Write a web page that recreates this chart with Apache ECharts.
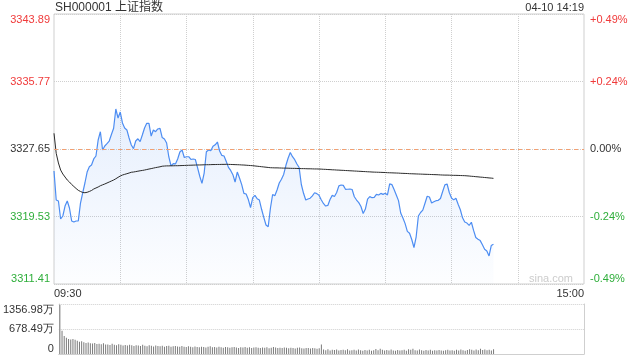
<!DOCTYPE html>
<html><head><meta charset="utf-8">
<script src="https://cdn.jsdelivr.net/npm/echarts/dist/echarts.min.js"></script>
<style>html,body{margin:0;padding:0;background:#fff}#c{width:640px;height:360px}</style>
</head><body><div id="c"></div><script>
const title = 'SH000001 上证指数';
const stamp = '04-10 14:19';
const prevClose = 3327.65;
const priceMin = 3311.41, priceMax = 3343.89, priceStep = 8.12;
const volMax = 1356.98, volStep = 678.49;
const startLabel = '09:30', endLabel = '15:00';

const price = [
3325.00,3321.51,3321.39,3319.23,3319.59,3320.79,3321.39,3320.55,3318.99,3318.87,
3318.99,3318.99,3321.15,3322.36,3323.56,3324.88,3325.52,3325.72,3326.45,3326.81,
3328.73,3329.73,3327.53,3328.01,3328.29,3328.61,3329.39,3330.14,3332.46,3331.38,
3332.10,3330.78,3330.18,3329.94,3328.97,3328.13,3327.69,3328.61,3328.88,3328.53,
3329.33,3330.18,3330.74,3330.74,3329.21,3329.94,3329.73,3330.06,3330.14,3329.03,
3328.85,3328.37,3326.69,3325.61,3325.89,3325.85,3326.45,3327.29,3327.53,3326.63,
3326.72,3326.72,3326.39,3326.45,3326.39,3325.42,3324.37,3323.52,3324.76,3327.32,
3327.53,3327.44,3327.97,3328.15,3328.49,3327.41,3326.88,3326.81,3326.15,3325.44,
3325.07,3324.56,3323.68,3324.88,3324.16,3323.37,3322.32,3322.24,3321.57,3320.61,
3321.80,3322.08,3321.67,3321.51,3320.40,3319.42,3318.51,3318.30,3320.52,3322.18,
3322.02,3322.72,3323.56,3324.02,3324.59,3325.66,3326.54,3327.23,3326.72,3326.36,
3325.85,3325.42,3323.38,3322.32,3321.51,3321.63,3321.73,3322.02,3322.39,3322.28,
3322.08,3321.55,3321.10,3320.79,3320.86,3321.57,3322.07,3321.94,3322.42,3323.22,
3323.32,3323.27,3322.80,3322.81,3322.84,3322.78,3321.91,3321.51,3321.20,3320.73,
3319.89,3320.43,3321.63,3321.92,3321.79,3321.83,3322.19,3322.12,3322.31,3322.19,
3322.32,3322.12,3323.46,3323.37,3322.77,3322.12,3321.44,3319.95,3319.34,3318.67,
3317.74,3317.52,3316.76,3315.80,3317.09,3319.59,3320.01,3320.29,3321.12,3321.96,
3321.88,3321.15,3321.30,3321.43,3321.48,3321.69,3322.54,3323.34,3323.44,3322.42,
3321.76,3321.53,3321.73,3321.00,3320.34,3319.37,3318.86,3318.74,3318.47,3318.84,
3317.86,3317.00,3316.80,3316.63,3316.12,3315.59,3315.38,3314.78,3316.04,3316.19
];

const avgPrice = [
3329.54,3327.13,3325.97,3325.12,3324.64,3324.28,3323.92,3323.68,3323.38,3323.14,
3322.90,3322.68,3322.54,3322.42,3322.39,3322.44,
3322.54,3322.66,3322.84,3322.96,3323.08,3323.23,3323.34,3323.44,3323.56,3323.68,
3323.80,3323.92,3324.07,3324.24,3324.40,3324.52,3324.60,3324.68,3324.76,3324.85,
3324.88,3324.93,3324.98,3325.03,3325.07,3325.12,3325.18,3325.24,3325.29,3325.35,
3325.41,3325.46,3325.51,3325.58,3325.60,
3325.62,3325.62,3325.63,3325.63,3325.64,3325.64,3325.65,3325.66,3325.67,3325.68,
3325.69,3325.70,3325.71,3325.72,3325.73,3325.73,3325.74,3325.75,3325.76,3325.76,
3325.77,3325.78,3325.78,3325.79,3325.79,3325.80,3325.80,
3325.81,3325.80,3325.79,3325.78,3325.77,3325.76,3325.75,3325.73,3325.72,3325.70,
3325.68,3325.66,3325.64,3325.61,3325.58,3325.55,3325.52,3325.49,3325.46,3325.43,
3325.40,3325.39,3325.38,3325.38,3325.37,3325.36,3325.35,3325.35,3325.34,3325.33,
3325.32,3325.32,3325.31,3325.30,3325.29,3325.29,3325.28,3325.27,3325.27,3325.26,
3325.25,3325.25,3325.24,
3325.23,3325.21,3325.20,3325.18,3325.17,3325.15,3325.14,3325.12,3325.11,3325.09,
3325.08,3325.06,3325.05,3325.03,3325.02,3325.00,3324.99,3324.97,3324.96,3324.94,
3324.93,3324.91,3324.90,3324.88,3324.87,3324.86,3324.85,
3324.84,3324.83,3324.82,3324.80,3324.79,3324.78,3324.77,3324.76,3324.75,3324.73,
3324.72,3324.71,3324.70,3324.68,
3324.67,3324.66,3324.65,3324.64,3324.63,3324.62,3324.61,3324.60,3324.59,3324.58,
3324.57,3324.56,3324.55,3324.53,3324.52,
3324.51,3324.51,3324.50,3324.49,3324.48,3324.48,3324.47,3324.46,3324.45,3324.44,
3324.42,3324.40,3324.37,3324.35,3324.32,3324.30,3324.27,3324.25,3324.22,3324.20,
3324.17,3324.15,3324.12
];

const volume = [
1340,632,490,440,410,395,410,385,360,330,345,320,300,310,295,285,300,270,280,265,290,255,260,245,275,250,240,262,250,230,
245,228,250,236,220,240,232,215,248,226,210,235,222,205,230,218,212,226,200,215,224,198,210,220,205,195,218,200,190,212,
196,185,205,192,180,200,188,176,195,210,182,190,178,198,186,172,190,180,168,185,192,175,165,182,176,190,170,180,166,178,
185,172,160,176,168,182,158,170,190,175,165,172,160,178,168,155,170,162,150,168,175,158,150,165,160,148,162,155,145,158,
255,120,105,132,98,115,108,125,95,110,118,100,128,92,105,112,98,120,102,90,110,96,115,88,104,135,100,140,112,95,
108,92,125,98,86,110,95,102,118,90,130,112,140,105,96,122,100,88,108,94,115,85,100,92,110,98,86,104,118,95,
102,90,112,96,125,100,88,108,130,115,98,120,105,140,110,125,100,118,92,130
];

// minute categories 09:30-11:30, 13:01-15:00
const times = [];
function pad(n){return (n<10?'0':'')+n;}
for (let m = 9*60+30; m <= 11*60+30; m++) times.push(pad(Math.floor(m/60))+':'+pad(m%60));
for (let m = 13*60+1; m <= 15*60; m++) times.push(pad(Math.floor(m/60))+':'+pad(m%60));

const RED = '#f03a3a', GREEN = '#2eae3a', DARK = '#333333', GRID = '#cfcfcf';

function priceLabel(v){
  const s = v.toFixed(2);
  if (v > prevClose + 0.01) return '{up|'+s+'}';
  if (v < prevClose - 0.01) return '{dn|'+s+'}';
  return '{eq|'+s+'}';
}
function pctLabel(v){
  const p = (v - prevClose) / prevClose * 100;
  if (v > prevClose + 0.01) return '{up|+'+p.toFixed(2)+'%}';
  if (v < prevClose - 0.01) return '{dn|'+p.toFixed(2)+'%}';
  return '{eq|0.00%}';
}
const rich = {
  up:{color:RED,fontSize:11,fontFamily:'Liberation Sans, Arial'},
  dn:{color:GREEN,fontSize:11,fontFamily:'Liberation Sans, Arial'},
  eq:{color:DARK,fontSize:11,fontFamily:'Liberation Sans, Arial'}
};

const chart = echarts.init(document.getElementById('c'), null, {renderer:'canvas'});
chart.setOption({
  animation:false,
  backgroundColor:'#fff',
  textStyle:{fontFamily:'Liberation Sans, Arial, sans-serif'},
  grid:[
    {left:54, top:14, width:530, height:270, show:true, borderColor:GRID, borderWidth:1, backgroundColor:'transparent'},
    {left:54, top:304, width:530, height:50, show:false}
  ],
  xAxis:[
    {type:'category', gridIndex:0, data:times, boundaryGap:false,
     axisLine:{show:false}, axisTick:{show:false},
     axisLabel:{interval:function(i){return i===0||i===times.length-1;}, margin:4, fontSize:11, color:DARK,
       alignMinLabel:'left', alignMaxLabel:'right', showMinLabel:true, showMaxLabel:true},
     splitLine:{show:true, interval:function(i){return i>0 && i<times.length-1 && i%30===0;}, lineStyle:{color:GRID, type:'dotted'}}},
    {type:'category', gridIndex:1, data:times, boundaryGap:true,
     axisLine:{show:true, lineStyle:{color:GRID}}, axisTick:{show:false}, axisLabel:{show:false}, splitLine:{show:false}}
  ],
  yAxis:[
    {type:'value', gridIndex:0, min:priceMin, max:priceMax, interval:priceStep, position:'left',
     axisLine:{show:false}, axisTick:{show:false},
     axisLabel:{formatter:priceLabel, rich:rich, margin:4, verticalAlignMinLabel:'bottom', verticalAlignMaxLabel:'top'},
     splitLine:{show:true, lineStyle:{color:GRID, type:'dotted'}}},
    {type:'value', gridIndex:0, min:priceMin, max:priceMax, interval:priceStep, position:'right',
     axisLine:{show:false}, axisTick:{show:false},
     axisLabel:{formatter:pctLabel, rich:rich, margin:6, verticalAlignMinLabel:'bottom', verticalAlignMaxLabel:'top'},
     splitLine:{show:false}},
    {type:'value', gridIndex:1, min:0, max:volMax, interval:volStep, position:'left',
     axisLine:{show:true, lineStyle:{color:GRID}}, axisTick:{show:false},
     axisLabel:{formatter:function(v){return v===0?'0':v.toFixed(2)+'万';}, fontSize:11, color:DARK, margin:5,
       verticalAlignMinLabel:'bottom', verticalAlignMaxLabel:'top'},
     splitLine:{show:true, lineStyle:{color:GRID, type:'dotted'}}},
    {type:'value', gridIndex:1, min:0, max:volMax, interval:volStep, position:'right',
     axisLine:{show:true, lineStyle:{color:GRID}}, axisTick:{show:false}, axisLabel:{show:false}, splitLine:{show:false}}
  ],
  series:[
    {type:'line', xAxisIndex:0, yAxisIndex:0, data:price, showSymbol:false, symbol:'none',
     lineStyle:{color:'#4d8df2', width:1.2}, itemStyle:{color:'#4d8df2'},
     areaStyle:{origin:'start', color:new echarts.graphic.LinearGradient(0,0,0,1,[
       {offset:0,color:'rgba(77,141,242,0.20)'},{offset:1,color:'rgba(77,141,242,0.02)'}])},
     markLine:{silent:true, symbol:'none', label:{show:false},
       lineStyle:{color:'#f2a072', type:[4,4], width:1}, data:[{yAxis:prevClose}]},
     z:3},
    {type:'line', xAxisIndex:0, yAxisIndex:0, data:avgPrice, showSymbol:false, symbol:'none',
     lineStyle:{color:'#2b2b2b', width:1}, itemStyle:{color:'#2b2b2b'}, z:4},
    {type:'bar', xAxisIndex:1, yAxisIndex:2, data:volume, barWidth:1, itemStyle:{color:'#7a7a7a'}}
  ],
  graphic:[
    {type:'text', x:55, y:8, style:{text:title, fill:DARK, font:'12px "Liberation Sans", Arial, "Noto Sans CJK SC"', textVerticalAlign:'middle', textAlign:'left'}},
    {type:'text', x:584, y:8, style:{text:stamp, fill:DARK, font:'11px "Liberation Sans", Arial', textVerticalAlign:'middle', textAlign:'right'}},
    {type:'text', x:573, y:279, style:{text:'sina.com', fill:'#cccccc', font:'11px "Liberation Sans", Arial', textVerticalAlign:'middle', textAlign:'right'}}
  ]
});
</script></body></html>
